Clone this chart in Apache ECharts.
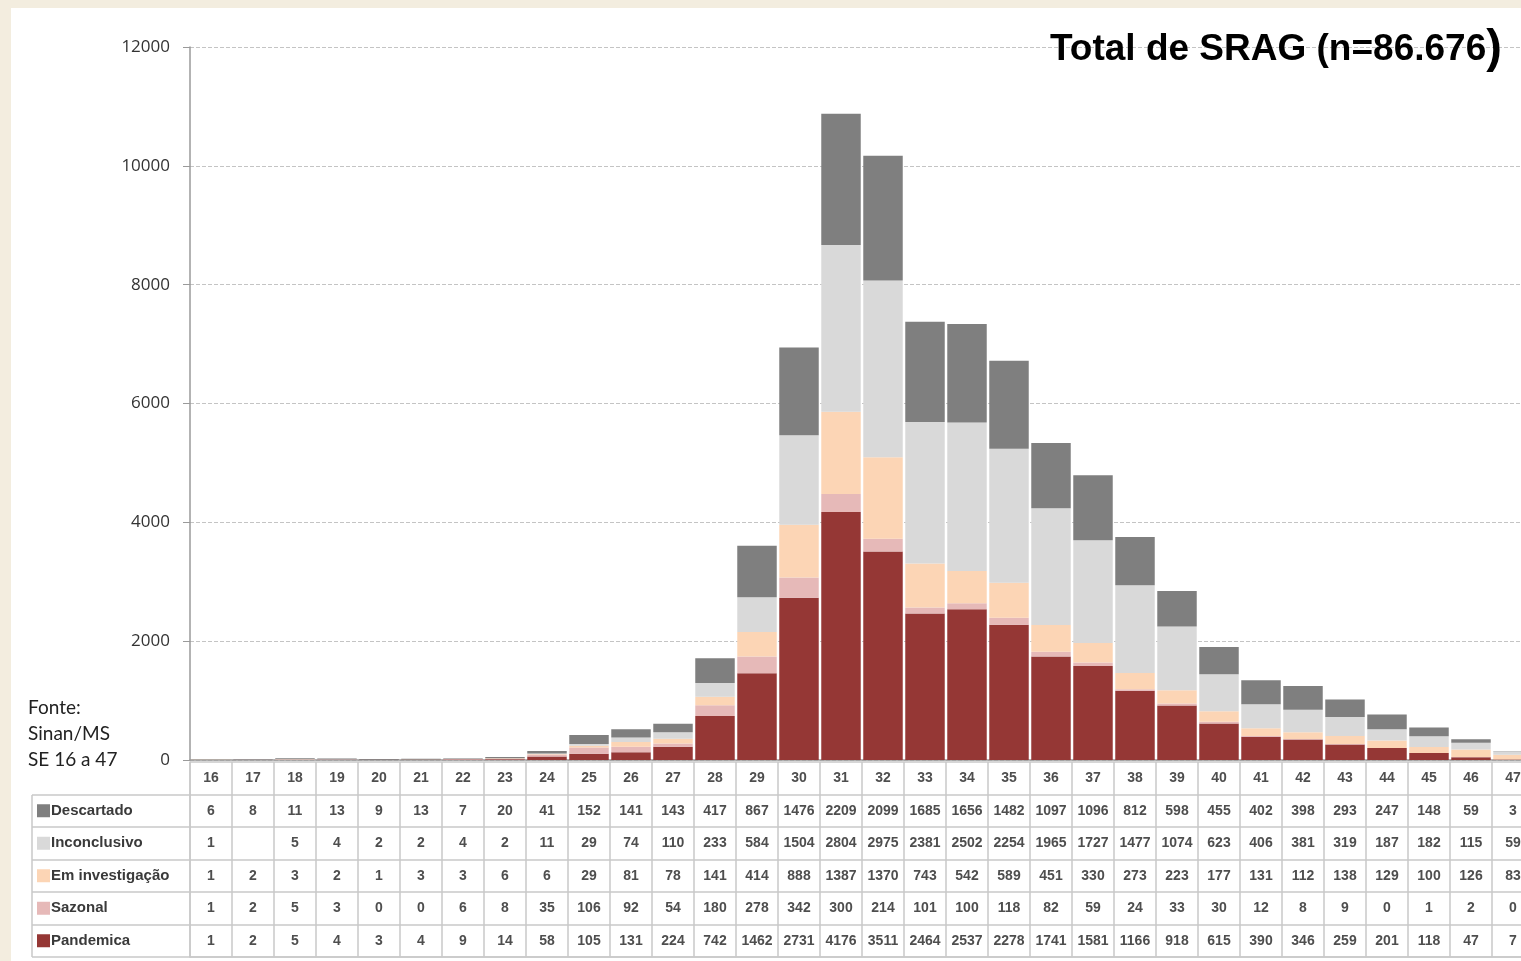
<!DOCTYPE html>
<html>
<head>
<meta charset="utf-8">
<title>Total de SRAG</title>
<script src="https://cdn.jsdelivr.net/npm/echarts@6/dist/echarts.min.js"></script>
<style>
  html, body { margin: 0; padding: 0; background: #f3eddf; overflow: hidden; }
  #panel { position: absolute; left: 11px; top: 8px; right: 0; bottom: 0; background: #fff; }
  #chart { position: absolute; left: 0; top: 0; width: 1545px; height: 961px; }
</style>
</head>
<body>
<div id="panel"></div>
<div id="chart"></div>
<script>
// semanas epidemiologicas
const weeks = ['16','17','18','19','20','21','22','23','24','25','26','27','28','29','30','31',
  '32','33','34','35','36','37','38','39','40','41','42','43','44','45','46','47']

const descartado = [6,8,11,13,9,13,7,20,41,152,141,143,417,867,1476,2209,
  2099,1685,1656,1482,1097,1096,812,598,455,402,398,293,247,148,59,3]
const inconclusivo = [1,null,5,4,2,2,4,2,11,29,74,110,233,584,1504,2804,
  2975,2381,2502,2254,1965,1727,1477,1074,623,406,381,319,187,182,115,59]
const emInvestigacao = [1,2,3,2,1,3,3,6,6,29,81,78,141,414,888,1387,
  1370,743,542,589,451,330,273,223,177,131,112,138,129,100,126,83]
const sazonal = [1,2,5,3,0,0,6,8,35,106,92,54,180,278,342,300,
  214,101,100,118,82,59,24,33,30,12,8,9,0,1,2,0]
const pandemica = [1,2,5,4,3,4,9,14,58,105,131,224,742,1462,2731,4176,
  3511,2464,2537,2278,1741,1581,1166,918,615,390,346,259,201,118,47,7]

const yTicks = [0, 2000, 4000, 6000, 8000, 10000, 12000]

const seriesDefs = [
  { name: 'Pandemica', data: pandemica, color: '#953735' },
  { name: 'Sazonal', data: sazonal, color: '#e6b9b8' },
  { name: 'Em investigação', data: emInvestigacao, color: '#fcd5b5' },
  { name: 'Inconclusivo', data: inconclusivo, color: '#d9d9d9' },
  { name: 'Descartado', data: descartado, color: '#7f7f7f' }
]
// ordem das linhas da tabela (de cima para baixo)
const tableRows = seriesDefs.slice().reverse()

const rowNames = [''].concat(tableRows.map(r => r.name))
const rich = {}
tableRows.forEach((r, i) => {
  rich['c' + i] = { backgroundColor: r.color, width: 13, height: 13 }
})
rich.t = { fontFamily: 'Liberation Sans', fontSize: 15, fontWeight: 'bold', color: '#3a3a3a', padding: [0, 0, 0, 1] }

// celulas da tabela: [coluna, linha, texto]
const cells = []
weeks.forEach((w, c) => {
  cells.push([c, 0, w])
  tableRows.forEach((r, i) => {
    const v = r.data[c]
    cells.push([c, i + 1, v === null ? '' : String(v)])
  })
})

const gridLine = { color: '#c9c9c9', width: 1.5 }

const chart = echarts.init(document.getElementById('chart'))
const option = {
  animation: false,
  backgroundColor: 'transparent',
  title: {
    text: '{a|Total de SRAG (n=86.676}{p|)}',
    left: 1045,
    top: 21,
    textStyle: {
      rich: {
        a: { fontFamily: 'Liberation Sans', fontWeight: 'bold', fontSize: 37, color: '#000' },
        p: { fontFamily: 'Liberation Sans', fontWeight: 'bold', fontSize: 47, color: '#000' }
      }
    }
  },
  graphic: [
    {
      type: 'text', left: 28, top: 695,
      style: {
        text: 'Fonte:\nSinan/MS\nSE 16 a 47',
        font: '19px Lato', fill: '#222', lineHeight: 26
      }
    },
    {
      type: 'line', shape: { x1: 32, y1: 795, x2: 32, y2: 957 },
      style: { stroke: '#c9c9c9', lineWidth: 1.5 }
    }
  ],
  grid: [
    { left: 190, top: 47, width: 1344, height: 713 },
    { left: 190, top: 762, width: 1344, height: 195 }
  ],
  xAxis: [
    {
      type: 'category', gridIndex: 0, data: weeks,
      axisLine: { lineStyle: { color: '#9a9a9a', width: 1.5 } },
      axisTick: { show: false },
      axisLabel: { show: false }
    },
    {
      type: 'category', gridIndex: 1, data: weeks,
      axisLine: { lineStyle: gridLine },
      axisTick: { show: false },
      axisLabel: { show: false },
      splitLine: { show: true, interval: 0, lineStyle: gridLine }
    }
  ],
  yAxis: [
    {
      type: 'value', gridIndex: 0, min: yTicks[0], max: yTicks[yTicks.length - 1], interval: 2000,
      axisLine: { show: true, lineStyle: { color: '#9a9a9a', width: 1.5 } },
      axisTick: { show: true, length: 7, lineStyle: { color: '#9a9a9a' } },
      axisLabel: { fontFamily: 'Open Sans', fontSize: 17, color: '#333', margin: 20, formatter: v => String(v) },
      splitLine: { lineStyle: { color: '#c4c4c4', type: [4, 2] } }
    },
    {
      type: 'category', gridIndex: 1, data: rowNames, inverse: true,
      axisLine: { show: true, lineStyle: gridLine },
      axisTick: {
        show: true, length: 158, lineStyle: gridLine,
        interval: function (idx) { return idx !== 0 }
      },
      axisLabel: {
        align: 'left', margin: 153,
        formatter: function (v, i) {
          if (!v) return ''
          return '{c' + (i - 1) + '|}{t|' + v + '}'
        },
        rich: rich
      },
      splitLine: { show: true, interval: 0, lineStyle: gridLine }
    }
  ],
  series: seriesDefs.map(s => ({
    name: s.name,
    type: 'bar',
    stack: 'total',
    xAxisIndex: 0,
    yAxisIndex: 0,
    barCategoryGap: '6%',
    itemStyle: { color: s.color },
    data: s.data.map(v => v === null ? 0 : v)
  })).concat([{
    type: 'scatter',
    xAxisIndex: 1,
    yAxisIndex: 1,
    symbolSize: 1,
    itemStyle: { color: 'rgba(0,0,0,0)' },
    silent: true,
    label: {
      show: true, position: 'inside',
      formatter: p => p.data[2],
      fontFamily: 'Liberation Sans', fontWeight: 'bold', fontSize: 14, color: '#222'
    },
    data: cells
  }])
}
chart.setOption(option)
window.onresize = () => { chart.resize() }
</script>
</body>
</html>
